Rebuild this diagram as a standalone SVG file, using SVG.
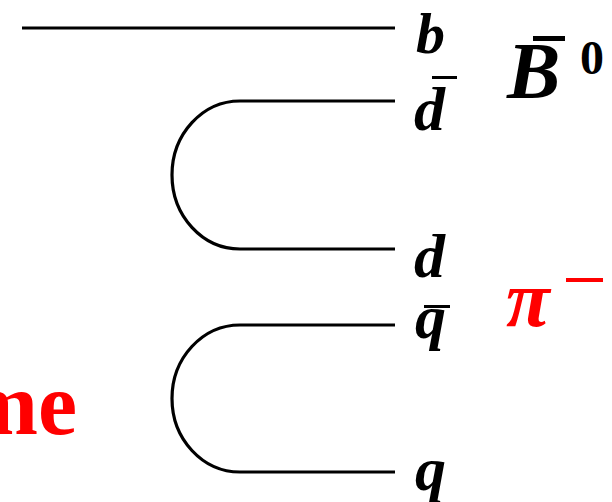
<svg xmlns="http://www.w3.org/2000/svg" width="612" height="502" viewBox="0 0 612 502">
<style>
.ln{fill:none;stroke:#000;stroke-width:3.2}
.q{font-family:"Liberation Serif","Times New Roman",serif;font-style:italic;font-weight:bold;font-size:62px;fill:#000}
.bar{fill:#000}
</style>
<rect width="612" height="502" fill="#fff"/>
<g id="connectors">
<path class="ln" d="M22,28 H395"/>
<path class="ln" d="M395,101 H240 A68,74 0 0 0 240,249 H395"/>
<path class="ln" d="M395,325 H240 A68,73.5 0 0 0 240,472 H395"/>
</g>
<g id="label-b"><text class="q" x="416" y="53" style="font-size:58px">b</text></g>
<g id="label-dbar"><rect class="bar" x="432" y="76" width="25" height="3"/><text class="q" x="414" y="130">d</text></g>
<g id="label-d"><text class="q" x="414" y="277">d</text></g>
<g id="label-qbar"><rect class="bar" x="424" y="305" width="26" height="3"/><text class="q" x="415" y="338">q</text></g>
<g id="label-q"><text class="q" x="415" y="490">q</text></g>
<g id="label-B0"><rect class="bar" x="533" y="36" width="32" height="5"/><text class="q" x="507" y="98" style="font-size:80px">B</text><text x="580" y="74" font-family="Liberation Serif, serif" font-weight="bold" font-size="48px">0</text></g>
<g id="label-pi"><text x="506" y="326" font-family="Liberation Serif, serif" font-style="italic" font-weight="bold" font-size="80px" fill="#f00">π</text><rect x="566" y="278" width="37" height="4" fill="#f00"/></g>
<g id="label-me"><text x="77" y="434" text-anchor="end" font-family="Liberation Serif, serif" font-weight="bold" font-size="88px" fill="#f00">me</text></g>
</svg>
